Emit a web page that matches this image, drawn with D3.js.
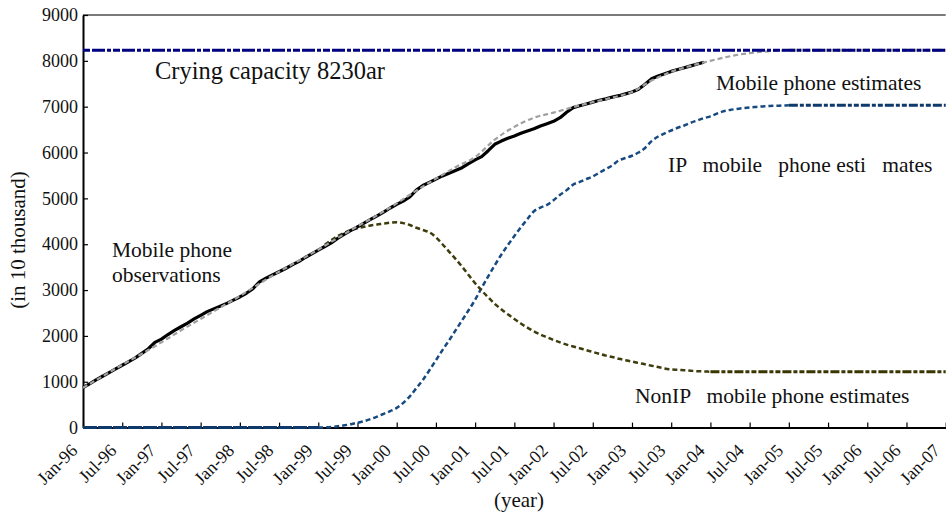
<!DOCTYPE html>
<html>
<head>
<meta charset="utf-8">
<script src="https://cdn.jsdelivr.net/npm/d3@7"></script>
<style>
  html, body { margin: 0; padding: 0; background: #fff; }
  svg { display: block; }
  text { font-family: "Liberation Serif", "Times New Roman", serif; fill: #111; }
</style>
</head>
<body>
<svg id="chart" width="946" height="516"></svg>
<script>
// Half-yearly axis labels, one every 6 months starting Jan-96
const tickLabels = ["Jan-96","Jul-96","Jan-97","Jul-97","Jan-98","Jul-98","Jan-99","Jul-99",
  "Jan-00","Jul-00","Jan-01","Jul-01","Jan-02","Jul-02","Jan-03","Jul-03","Jan-04","Jul-04",
  "Jan-05","Jul-05","Jan-06","Jul-06","Jan-07"];

const yTicks = [0, 1000, 2000, 3000, 4000, 5000, 6000, 7000, 8000, 9000];

// Observed subscribers (10 thousand), monthly from Jan-96
const observations = [
  870, 955, 1040, 1120, 1200, 1280, 1360, 1440, 1520, 1620, 1720, 1860,
  1930, 2030, 2120, 2200, 2280, 2370, 2450, 2530, 2590, 2650, 2710, 2780,
  2850, 2930, 3030, 3180, 3260, 3330, 3400, 3470, 3550, 3620, 3710, 3790,
  3870, 3950, 4030, 4130, 4220, 4300, 4380, 4460, 4540, 4620, 4700, 4790,
  4870, 4940, 5030, 5180, 5280, 5350, 5420, 5490, 5550, 5610, 5670, 5760,
  5840, 5910, 6040, 6180, 6250, 6310, 6360, 6420, 6470, 6520, 6580, 6630,
  6680, 6760, 6880, 6980, 7020, 7060, 7100, 7140, 7170, 7210, 7240, 7280,
  7320, 7380, 7490, 7610, 7670, 7720, 7770, 7810, 7850, 7890, 7930, 7970
];

// Total estimate, quarterly from Jan-96 to Jan-05, then its plateau
const estimateMonths = [0,3,6,9,12,15,18,21,24,27,30,33,36,39,42,45,48,51,54,57,60,63,66,69,72,75,78,81,84,87,90,93,96,99,102,105,108];
const estimateValues = [870,1120,1370,1610,1860,2120,2370,2620,2870,3140,3400,3640,3880,4140,4390,4630,4890,5170,5430,5680,5900,6280,6560,6760,6870,6990,7100,7200,7320,7570,7760,7890,8000,8100,8170,8210,8230];
const estimatePlateau = 8230;

// IP handset estimate, monthly from Jan-99 (month 36) to Jan-05 (month 108)
const ipStart = 36;
const ipValues = [
  0, 5, 15, 30, 50, 75, 105, 140, 185, 240, 300, 360,
  430, 540, 680, 860, 1040, 1250, 1470, 1690, 1900, 2120, 2340, 2560,
  2790, 3050, 3300, 3540, 3770, 3980, 4180, 4370, 4550, 4720, 4800, 4860,
  4960, 5080, 5180, 5300, 5360, 5420, 5480, 5560, 5640, 5720, 5830, 5880,
  5930, 6000, 6100, 6250, 6350, 6420, 6480, 6540, 6590, 6650, 6700, 6750,
  6790, 6850, 6900, 6930, 6950, 6970, 6985, 6995, 7005, 7015, 7020, 7025,
  7030
];
const ipPlateau = 7030;

// Non-IP handset estimate, monthly from Feb-99 (month 37) to Jan-04 (month 96)
const nonIpStart = 37;
const nonIpValues = [
  3990, 4090, 4180, 4250, 4310, 4350, 4380, 4410, 4430, 4450, 4470,
  4480, 4460, 4420, 4360, 4310, 4260, 4150, 4000, 3840, 3680, 3510, 3330,
  3150, 2990, 2840, 2700, 2580, 2470, 2370, 2270, 2180, 2100, 2030, 1970,
  1910, 1860, 1810, 1770, 1730, 1690, 1650, 1610, 1570, 1540, 1500, 1470,
  1440, 1410, 1380, 1350, 1320, 1290, 1270, 1260, 1250, 1240, 1230, 1225,
  1220
];
const nonIpPlateau = 1220;

const carryingCapacity = 8230;
const lastMonth = 132;

const svg = d3.select("#chart");
const margin = { left: 83, right: 0.3, top: 15, bottom: 88.4 };
const W = 946, H = 516;

const x = d3.scaleLinear().domain([0, lastMonth]).range([margin.left, W - margin.right]);
const y = d3.scaleLinear().domain([0, 9000]).range([H - margin.bottom, margin.top]);

const line = d3.line().x(d => x(d[0])).y(d => y(d[1]));
const smooth = d3.line().x(d => x(d[0])).y(d => y(d[1])).curve(d3.curveMonotoneX);

const plateauDash = "9,2,4,2,5,2";
const curveDash = "5,3";

// top frame line
svg.append("line")
  .attr("x1", x(0)).attr("x2", x(lastMonth))
  .attr("y1", y(9000)).attr("y2", y(9000))
  .attr("stroke", "#7a7a7a").attr("stroke-width", 2);

// axes
const xAxis = d3.axisBottom(x)
  .tickValues(d3.range(0, lastMonth + 1, 6))
  .tickFormat((d, i) => tickLabels[i])
  .tickSizeInner(-5).tickSizeOuter(0);
const gx = svg.append("g").attr("transform", `translate(0,${y(0)})`).call(xAxis);
gx.select(".domain").attr("stroke", "#000").attr("stroke-width", 2);
gx.selectAll(".tick line").attr("stroke", "#000").attr("stroke-width", 1.2);
gx.selectAll(".tick text")
  .attr("font-size", 18)
  .attr("text-anchor", "end")
  .attr("dy", null)
  .attr("y", 0)
  .attr("transform", "translate(-5,24) rotate(-45)");

const yAxis = d3.axisLeft(y).tickValues(yTicks).tickFormat(d3.format("d"))
  .tickSizeInner(-5).tickSizeOuter(0).tickPadding(5);
const gy = svg.append("g").attr("transform", `translate(${x(0)},0)`).call(yAxis);
gy.select(".domain").attr("stroke", "#000").attr("stroke-width", 2);
gy.selectAll(".tick line").attr("stroke", "#000").attr("stroke-width", 1.2);
gy.selectAll(".tick text").attr("font-size", 18);

// IP estimate: zero run, growth curve, plateau
const ipCurve = ipValues.map((v, i) => [ipStart + i, v]);
svg.append("path").datum([[0, 0], [ipStart, 0]]).attr("d", line)
  .attr("fill", "none").attr("stroke", "#0d3a6b").attr("stroke-width", 3).attr("stroke-dasharray", "14,1");
svg.append("path").datum(ipCurve).attr("d", smooth)
  .attr("fill", "none").attr("stroke", "#174a80").attr("stroke-width", 2.5).attr("stroke-dasharray", curveDash);
svg.append("path").datum([[ipCurve[ipCurve.length - 1][0], ipPlateau], [lastMonth, ipPlateau]]).attr("d", line)
  .attr("fill", "none").attr("stroke", "#0d3a6b").attr("stroke-width", 3).attr("stroke-dasharray", plateauDash);

// Non-IP estimate
const nonIpCurve = nonIpValues.map((v, i) => [nonIpStart + i, v]);
svg.append("path").datum(nonIpCurve).attr("d", smooth)
  .attr("fill", "none").attr("stroke", "#3e3c0c").attr("stroke-width", 2.5).attr("stroke-dasharray", curveDash);
svg.append("path").datum([[nonIpCurve[nonIpCurve.length - 1][0], nonIpPlateau], [lastMonth, nonIpPlateau]]).attr("d", line)
  .attr("fill", "none").attr("stroke", "#3a3600").attr("stroke-width", 3).attr("stroke-dasharray", plateauDash);

// observations
svg.append("path").datum(observations.map((v, i) => [i, v])).attr("d", line)
  .attr("fill", "none").attr("stroke", "#000").attr("stroke-width", 3.2)
  .attr("stroke-linejoin", "round");

// total estimate
const estCurve = estimateMonths.map((m, i) => [m, estimateValues[i]]);
svg.append("path").datum(estCurve).attr("d", smooth)
  .attr("fill", "none").attr("stroke", "#a0a0a0").attr("stroke-width", 2.2).attr("stroke-dasharray", curveDash);
svg.append("path").datum([[estimateMonths[estimateMonths.length - 1], estimatePlateau], [lastMonth, estimatePlateau]]).attr("d", line)
  .attr("fill", "none").attr("stroke", "#9a9a9a").attr("stroke-width", 3).attr("stroke-dasharray", plateauDash);

// carrying capacity
svg.append("path").datum([[0, carryingCapacity], [lastMonth, carryingCapacity]]).attr("d", line)
  .attr("fill", "none").attr("stroke", "#000080").attr("stroke-width", 3).attr("stroke-dasharray", "7,2,13,2,4,2");

// annotations
const note = (tx, ty, size, str) => svg.append("text")
  .attr("x", tx).attr("y", ty).attr("font-size", size)
  .style("white-space", "pre").text(str);

note(155, 79, 24.5, "Crying capacity 8230ar");
note(716, 90, 21.5, "Mobile phone estimates");
note(668, 172, 21.5, "IP   mobile   phone esti   mates");
note(112, 257, 21.5, "Mobile phone");
note(112, 282, 21.5, "observations");
note(635, 403, 21.5, "NonIP   mobile phone estimates");

// axis titles
svg.append("text").attr("x", 519).attr("y", 507).attr("text-anchor", "middle")
  .attr("font-size", 21).text("(year)");
svg.append("text").attr("transform", "translate(25,240) rotate(-90)")
  .attr("text-anchor", "middle").attr("font-size", 21).text("(in 10 thousand)");
</script>
</body>
</html>
